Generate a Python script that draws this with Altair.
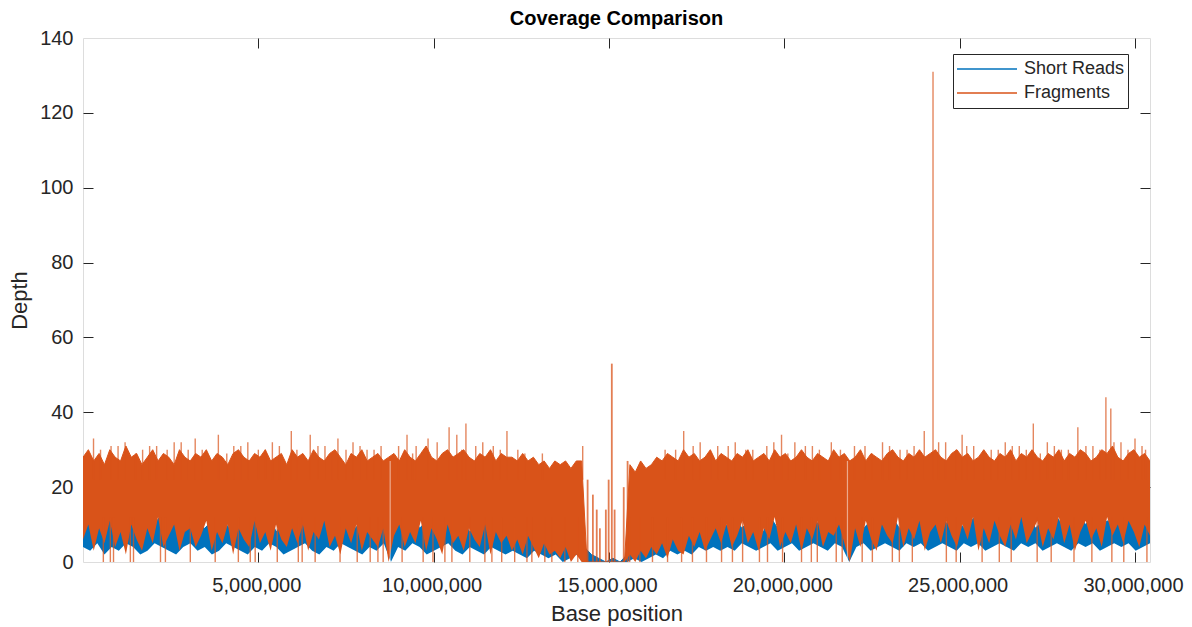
import altair as alt
import pandas as pd

CHROM_LEN = 30427671
SERIES = ["Short Reads", "Fragments"]
COLORS = ["#0072BD", "#D95319"]
X_TICKS = [5000000, 10000000, 15000000, 20000000, 25000000, 30000000]
Y_TICKS = [0, 20, 40, 60, 80, 100, 120, 140]
Y_INNER_TICKS = [20, 40, 60, 80, 100, 120]

# Fragments depth: upper / lower envelope read along the chromosome (200 windows)
frag_peaks = [
    28, 30, 27, 29, 26, 30, 28, 27, 31, 28, 29, 26, 28, 30, 27, 29, 28, 26, 30, 28,
    27, 29, 28, 30, 27, 29, 28, 26, 29, 30, 28, 27, 29, 28, 30, 27, 28, 29, 26, 30,
    28, 29, 27, 30, 28, 27, 29, 30, 28, 26, 29, 28, 30, 27, 28, 29, 27, 28, 29, 27,
    30, 28, 27, 29, 31, 28, 27, 29, 30, 28, 29, 30, 28, 27, 29, 28, 30, 27, 29, 28,
    28, 27, 29, 27, 28, 26, 27, 25, 27, 26, 27, 25, 27, 27, 0, 0, 0, 0, 0, 0,
    0, 0, 26, 24, 27, 25, 26, 28, 27, 29, 28, 27, 30, 28, 29, 27, 28, 30, 27, 29,
    28, 27, 29, 28, 30, 27, 28, 29, 27, 30, 28, 29, 27, 28, 30, 28, 27, 29, 28, 27,
    30, 28, 29, 27, 28, 30, 27, 29, 28, 27, 29, 30, 28, 27, 29, 28, 30, 28, 29, 30,
    28, 27, 29, 30, 28, 29, 27, 28, 30, 28, 27, 29, 28, 30, 27, 29, 28, 30, 28, 27,
    29, 28, 30, 27, 29, 28, 30, 29, 27, 28, 30, 29, 31, 28, 27, 29, 30, 28, 29, 27,
]
frag_troughs = [
    6, 10, 3, 9, 5, 11, 4, 8, 2, 10, 6, 3, 9, 5, 12, 4, 7, 10, 3, 8,
    9, 4, 7, 11, 3, 8, 5, 10, 2, 9, 6, 4, 11, 5, 8, 3, 10, 6, 4, 9,
    5, 10, 3, 8, 6, 11, 4, 7, 2, 9, 5, 10, 3, 8, 6, 4, 9, 0, 7, 10,
    4, 8, 5, 11, 3, 9, 6, 2, 10, 5, 7, 3, 9, 6, 4, 10, 2, 8, 5, 7,
    3, 6, 2, 7, 4, 1, 5, 2, 3, 1, 4, 0, 2, 0, 0, 0, 0, 0, 0, 0,
    0, 0, 2, 0, 3, 1, 4, 2, 5, 1, 6, 3, 2, 7, 4, 8, 3, 6, 9, 5,
    10, 4, 7, 11, 5, 8, 3, 9, 6, 12, 4, 8, 5, 10, 3, 9, 6, 11, 4, 8,
    7, 10, 5, 0, 9, 4, 11, 6, 3, 10, 7, 5, 12, 4, 9, 6, 11, 3, 8, 10,
    5, 11, 7, 4, 10, 6, 12, 3, 9, 5, 11, 7, 4, 10, 6, 12, 5, 8, 11, 4,
    9, 6, 12, 5, 10, 3, 8, 11, 6, 9, 4, 12, 7, 10, 5, 11, 8, 4, 10, 7,
]

# Short reads depth: upper / lower envelope (150 windows)
short_peaks = [
    10, 12, 9, 11, 13, 8, 10, 12, 9, 11, 10, 13, 9, 11, 8, 12, 10, 9, 11, 13, 10, 8, 12, 9, 11, 10, 12, 8, 11, 9,
    12, 10, 9, 11, 13, 8, 10, 12, 9, 11, 10, 8, 12, 9, 11, 10, 13, 9, 11, 8, 12, 10, 9, 11, 8, 10, 12, 9, 10, 8,
    9, 11, 8, 7, 9, 6, 8, 5, 7, 6, 4, 2, 1, 0, 1, 0, 2, 4, 6, 5, 7, 6, 8, 7, 9, 8, 10, 9, 11, 8,
    10, 12, 9, 11, 10, 8, 12, 9, 11, 10, 13, 9, 11, 10, 12, 9, 11, 10, 12, 9, 11, 13, 10, 12, 9, 11, 10, 12, 9, 13,
    11, 10, 12, 9, 11, 13, 10, 12, 9, 11, 10, 12, 13, 9, 11, 10, 12, 9, 11, 13, 10, 12, 9, 11, 10, 12, 13, 11, 14, 10,
]
short_troughs = [
    4, 3, 5, 2, 4, 3, 5, 4, 2, 3, 5, 4, 3, 2, 4, 5, 3, 4, 2, 3, 5, 4, 3, 2, 4, 3, 5, 4, 2, 3,
    4, 5, 3, 2, 4, 3, 5, 4, 3, 2, 4, 3, 5, 0, 4, 3, 5, 4, 2, 3, 4, 5, 3, 2, 4, 3, 2, 4, 3, 2,
    3, 2, 1, 3, 2, 1, 2, 0, 1, 2, 0, 0, 0, 0, 0, 0, 0, 1, 0, 1, 2, 1, 3, 2, 3, 2, 4, 3, 4, 3,
    4, 3, 5, 4, 3, 4, 5, 3, 4, 5, 3, 4, 5, 4, 3, 5, 4, 0, 4, 5, 3, 4, 5, 4, 3, 5, 4, 5, 3, 4,
    5, 4, 3, 5, 4, 5, 3, 4, 5, 4, 3, 5, 4, 5, 3, 4, 5, 4, 3, 5, 4, 5, 3, 4, 5, 4, 5, 3, 4, 5,
]

# Isolated single-position spikes above the Fragments band (Mb, depth)
spike_pos_mb = [
    0.30, 3.20, 3.86, 5.94, 6.48, 7.27, 9.24, 9.84, 10.44, 10.66, 10.92, 12.09,
    14.25, 17.13, 19.92, 21.34, 23.99, 24.24, 25.07, 27.10, 28.37, 29.17, 29.31,
    0.8, 1.2, 1.7, 2.1, 2.6, 3.0, 4.3, 4.7, 5.2, 5.6, 6.9, 7.7, 8.1, 8.5, 9.5,
    11.4, 11.7, 12.4, 13.1, 16.6, 17.6, 18.1, 18.6, 19.1, 19.5, 20.3, 20.8, 21.0,
    22.3, 22.8, 23.3, 23.7, 24.6, 25.4, 25.9, 26.3, 26.7, 27.5, 27.9, 28.8, 29.6, 30.0, 30.3,
    0.5, 1.0, 1.5, 1.9, 2.4, 2.8, 3.4, 4.1, 4.5, 5.0, 5.4, 6.1, 6.7, 7.1, 7.5, 7.9, 8.3,
    9.0, 9.4, 10.1, 10.8, 11.2, 11.9, 12.6, 16.9, 17.4, 17.9, 18.4, 18.9, 19.7, 20.1, 20.6,
    21.6, 22.0, 22.5, 23.0, 23.5, 24.4, 24.9, 25.2, 25.7, 26.1, 26.5, 26.9, 27.3, 27.7, 28.1,
    28.6, 29.0, 29.4, 29.8, 30.2,
]
spike_depth = [
    33, 33, 34, 35, 34, 33, 34, 33, 36, 34, 37, 35,
    31, 35, 34, 32, 35, 131, 34, 37, 36, 44, 41,
    31, 32, 30, 31, 32, 30, 31, 32, 30, 31, 31, 32, 30, 31, 31,
    32, 31, 30, 29, 30, 32, 31, 32, 30, 31, 32, 31, 30,
    31, 32, 30, 31, 32, 31, 30, 32, 31, 32, 30, 31, 32, 33, 30,
    30, 31, 29, 31, 30, 32, 30, 29, 31, 30, 32, 30, 31, 29, 30, 31, 30,
    31, 29, 32, 30, 31, 30, 29, 30, 31, 29, 31, 30, 32, 29, 31,
    30, 31, 29, 31, 30, 32, 30, 31, 29, 30, 31, 30, 29, 31, 30,
    31, 30, 32, 30, 31,
]
# Sparse coverage inside the centromere gap (Mb, depth)
centro_pos_mb = [14.39, 14.54, 14.65, 14.74, 14.91, 14.99, 15.08, 15.16, 15.42, 15.53]
centro_depth = [22, 18, 14, 9, 14, 22, 53, 14, 20, 27]
# Positions where the Fragments track drops to zero (Mb)
dip_pos_mb = [
    0.58, 0.78, 0.87, 1.35, 1.44, 2.21, 2.35, 3.06, 3.77, 4.43, 4.77, 4.91, 5.54, 6.14,
    6.25, 6.62, 7.33, 7.82, 8.19, 8.41, 8.56, 9.10, 9.70, 9.98, 10.32, 10.52, 11.03,
    11.46, 11.66, 11.94, 12.31, 12.66, 12.80, 13.17, 13.37, 13.74, 14.11, 15.59, 15.88,
    16.24, 16.67, 17.07, 17.38, 17.78, 18.21, 18.52, 18.81, 19.29, 19.52, 19.95, 20.49,
    20.77, 20.94, 21.48, 21.65, 22.22, 22.51, 23.08, 23.28, 23.65, 24.62, 24.90, 25.64,
    26.13, 26.47, 27.21, 27.61, 28.26, 28.77, 29.34, 29.68, 30.34,
]
# Short uncovered gaps (Mb)
gap_pos_mb = [8.76, 21.80]

assert len(frag_peaks) == len(frag_troughs) == 200
assert len(short_peaks) == len(short_troughs) == 150
assert len(spike_pos_mb) == len(spike_depth)
assert len(centro_pos_mb) == len(centro_depth)


def envelope(peaks, troughs, name):
    n = len(peaks)
    pos = [i * CHROM_LEN / (n - 1) for i in range(n)]
    return pd.DataFrame({"pos": pos, "hi": peaks, "lo": troughs, "series": name})


def points(pos_mb, depth):
    return pd.DataFrame({"pos": [p * 1e6 for p in pos_mb], "depth": depth})


short_df = envelope(short_peaks, short_troughs, SERIES[0])
frag_df = envelope(frag_peaks, frag_troughs, SERIES[1])
spike_df = points(spike_pos_mb, spike_depth)
centro_df = points(centro_pos_mb, centro_depth)
dip_df = points(dip_pos_mb, [0] * len(dip_pos_mb))
gap_df = points(gap_pos_mb, [0] * len(gap_pos_mb))

W, H = 1067, 524
FONT = "Liberation Sans"
INK = "#262626"

xs = alt.Scale(domain=[0, CHROM_LEN], nice=False, zero=False)
ys = alt.Scale(domain=[0, 140], nice=False)
color = alt.Color(
    "series:N",
    scale=alt.Scale(domain=SERIES, range=COLORS),
    legend=alt.Legend(
        orient="none", legendX=870, legendY=16, title=None,
        symbolType="stroke", symbolSize=3600, symbolStrokeWidth=1.5,
        clipHeight=24, labelFontSize=18, labelFont=FONT, labelColor=INK,
        labelOffset=6, padding=3, strokeColor=INK, fillColor="white",
        rowPadding=0, labelLimit=300,
    ),
)

tick_axis = dict(labels=False, domain=False, grid=False, ticks=True, tickSize=10,
                 tickColor=INK, tickWidth=1, title=None)
X_NONE = alt.X("pos:Q", scale=xs, axis=None)

short_band = alt.Chart(short_df).mark_area(color=COLORS[0], clip=True).encode(
    x=alt.X("pos:Q", scale=xs, axis=alt.Axis(
        orient="bottom", values=X_TICKS, format=",d", labelFontSize=20, labelFont=FONT,
        labelColor=INK, labelPadding=13, labelOffset=-2, ticks=False, tickSize=0,
        domain=False, grid=False,
        title="Base position", titleFontSize=22, titleFont=FONT, titleColor=INK,
        titleFontWeight="normal", titlePadding=8)),
    y=alt.Y("hi:Q", scale=ys, axis=alt.Axis(
        orient="left", values=Y_TICKS, labelFontSize=20, labelFont=FONT, labelColor=INK,
        labelPadding=10, ticks=False, tickSize=0, domain=False, grid=False,
        title="Depth", titleFontSize=22, titleFont=FONT, titleColor=INK,
        titleFontWeight="normal", titlePadding=8)),
    y2="lo:Q",
)
short_edge = alt.Chart(short_df).mark_line(strokeWidth=1, clip=True).encode(
    x=X_NONE, y=alt.Y("hi:Q", scale=ys, axis=None), color=color,
)

frag_band = alt.Chart(frag_df).mark_area(color=COLORS[1], clip=True).encode(
    x=alt.X("pos:Q", scale=xs, axis=alt.Axis(orient="top", offset=-H, values=X_TICKS, **tick_axis)),
    y=alt.Y("hi:Q", scale=ys, axis=alt.Axis(orient="right", offset=-W, values=Y_INNER_TICKS, **tick_axis)),
    y2="lo:Q",
)
frag_edge = alt.Chart(frag_df).mark_line(strokeWidth=1, clip=True).encode(
    x=X_NONE, y=alt.Y("hi:Q", scale=ys, axis=None), color=color,
)

spikes = alt.Chart(spike_df).mark_rule(color=COLORS[1], strokeWidth=1.4, opacity=0.7, clip=True).encode(
    x=alt.X("pos:Q", scale=xs, axis=alt.Axis(orient="bottom", offset=-H, values=X_TICKS, **tick_axis)),
    y=alt.Y("depth:Q", scale=ys, axis=alt.Axis(orient="left", offset=-W, values=Y_INNER_TICKS, **tick_axis)),
    y2=alt.datum(22),
)

centro = alt.Chart(centro_df).mark_rule(color=COLORS[1], strokeWidth=1.8, opacity=0.75, clip=True).encode(
    x=X_NONE, y=alt.Y("depth:Q", scale=ys, axis=None), y2=alt.datum(0),
)

dips = alt.Chart(dip_df).mark_rule(color=COLORS[1], strokeWidth=1.4, opacity=0.75, clip=True).encode(
    x=X_NONE, y=alt.Y("depth:Q", scale=ys, axis=None), y2=alt.datum(12),
)

gaps = alt.Chart(gap_df).mark_rule(color="white", strokeWidth=1.2, opacity=0.5, clip=True).encode(
    x=X_NONE, y=alt.Y("depth:Q", scale=ys, axis=None), y2=alt.datum(27),
)

chart = alt.layer(short_band, short_edge, frag_band, frag_edge, spikes, centro, dips, gaps).resolve_axis(
    x="independent", y="independent"
).properties(
    width=W, height=H,
    title=alt.TitleParams("Coverage Comparison", fontSize=20, fontWeight="bold", font=FONT,
                          color="black", anchor="middle", frame="group", offset=-1),
    autosize=alt.AutoSizeParams(type="none"),
    padding={"left": 75, "top": 30, "right": 34, "bottom": 65},
).configure_view(stroke=INK, strokeWidth=1).configure(background="white")

chart.save("out.html", embed_options={"renderer": "svg", "actions": False})
